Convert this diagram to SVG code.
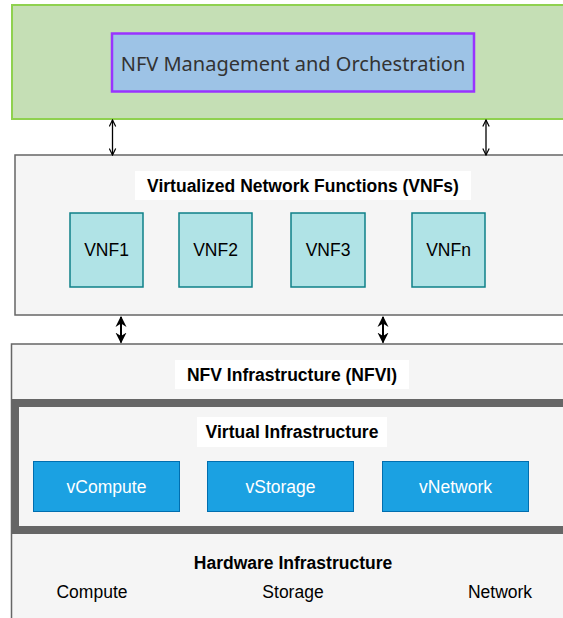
<svg xmlns="http://www.w3.org/2000/svg" width="563" height="618" viewBox="0 0 563 618">
<style>
.t{font-family:"Liberation Sans",Arial,sans-serif;font-size:17.5px;fill:#000;text-anchor:middle;dominant-baseline:central}
.b{font-weight:bold}
.panel{fill:#f5f5f5;stroke:#666;stroke-width:1.5}
.lbl{fill:#fff;stroke:none}
.vnf{fill:#b0e3e6;stroke:#0e8088;stroke-width:1.5}
.vi{fill:#1ba1e2;stroke:#006eaf;stroke-width:1}
.w{fill:#fff}
.thin{stroke:#000;stroke-width:1.3;fill:none;marker-start:url(#op);marker-end:url(#op)}
.thick{stroke:#000;stroke-width:2;fill:none;marker-start:url(#fh);marker-end:url(#fh)}
</style>
<defs>
<marker id="op" viewBox="0 0 10 10" refX="9" refY="5" markerWidth="8" markerHeight="8" markerUnits="userSpaceOnUse" orient="auto-start-reverse">
<path d="M1,1 L9,5 L1,9" fill="none" stroke="#000" stroke-width="1.5"/>
</marker>
<marker id="fh" viewBox="0 0 10 10" refX="9" refY="5" markerWidth="11" markerHeight="12" markerUnits="userSpaceOnUse" orient="auto-start-reverse">
<path d="M0,0 L10,5 L0,10 L3,5 Z" fill="#000"/>
</marker>
</defs>
<rect width="563" height="618" fill="#fff"/>
<g id="mano-area">
<rect x="12" y="5" width="560" height="114" fill="#c5dfb5" stroke="#8fd14f" stroke-width="2"/>
</g>
<g id="mano">
<rect x="112" y="33.5" width="362" height="58" fill="#9dc3e6" stroke="#9933ff" stroke-width="2.5"/>
<text x="293" y="63" style="font-family:'Noto Sans','Open Sans',sans-serif;font-size:20px;fill:#333;text-anchor:middle;dominant-baseline:central">NFV Management and Orchestration</text>
</g>
<g id="vnfs">
<rect class="panel" x="15" y="155" width="560" height="160"/>
<rect class="lbl" x="135" y="171" width="336" height="29"/>
<text class="t b" x="303" y="186">Virtualized Network Functions (VNFs)</text>
</g>
<g id="vnf1"><rect class="vnf" x="70" y="213" width="73" height="74"/><text class="t" x="106.5" y="250">VNF1</text></g>
<g id="vnf2"><rect class="vnf" x="179" y="213" width="73" height="74"/><text class="t" x="215.5" y="250">VNF2</text></g>
<g id="vnf3"><rect class="vnf" x="291" y="213" width="74" height="74"/><text class="t" x="328" y="250">VNF3</text></g>
<g id="vnfn"><rect class="vnf" x="412" y="213" width="73" height="74"/><text class="t" x="448.5" y="250">VNFn</text></g>
<g id="nfvi">
<rect class="panel" x="11.5" y="344" width="565" height="290"/>
<rect class="lbl" x="175" y="360" width="234" height="29"/>
<text class="t b" x="292" y="375">NFV Infrastructure (NFVI)</text>
</g>
<g id="virtual-infra">
<rect x="15" y="403" width="560" height="127" fill="#f5f5f5" stroke="#666" stroke-width="8"/>
<rect class="lbl" x="197" y="417" width="190" height="30"/>
<text class="t b" x="292" y="432">Virtual Infrastructure</text>
</g>
<g id="vcompute"><rect class="vi" x="33.5" y="461.5" width="146" height="50"/><text class="t w" x="106.5" y="487">vCompute</text></g>
<g id="vstorage"><rect class="vi" x="207.5" y="461.5" width="146" height="50"/><text class="t w" x="280.5" y="487">vStorage</text></g>
<g id="vnetwork"><rect class="vi" x="382.5" y="461.5" width="146" height="50"/><text class="t w" x="455.5" y="487">vNetwork</text></g>
<g id="hardware">
<text class="t b" x="293" y="563">Hardware Infrastructure</text>
<text class="t" x="92" y="592">Compute</text>
<text class="t" x="293" y="592">Storage</text>
<text class="t" x="500" y="592">Network</text>
</g>
<g id="connectors">
<line class="thin" x1="112.5" y1="120" x2="112.5" y2="155"/>
<line class="thin" x1="486" y1="120" x2="486" y2="155"/>
<line class="thick" x1="121" y1="317" x2="121" y2="342.5"/>
<line class="thick" x1="383" y1="317" x2="383" y2="342.5"/>
</g>
</svg>
